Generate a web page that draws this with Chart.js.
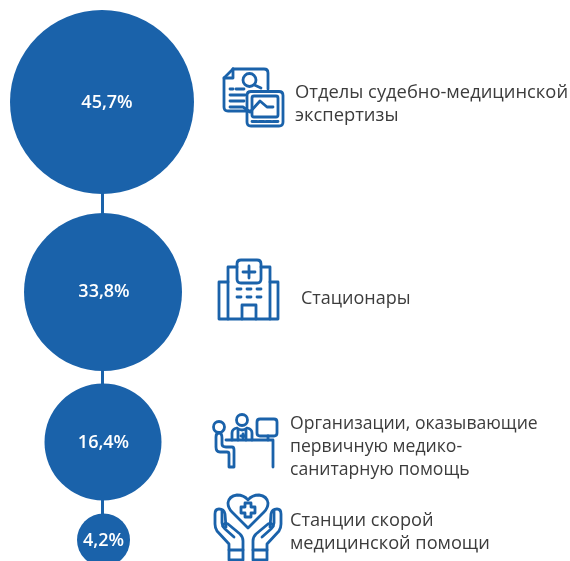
<!DOCTYPE html>
<html><head><meta charset="utf-8">
<style>html,body{margin:0;padding:0;background:#fff}canvas{display:block}</style>
<script src="https://cdn.jsdelivr.net/npm/chart.js@4"></script>
</head><body>
<canvas id="c" width="570" height="561"></canvas>
<script>
const categories = [
  ["Отделы судебно-медицинской","экспертизы"],
  ["Стационары"],
  ["Организации, оказывающие","первичную медико-","санитарную помощь"],
  ["Станции скорой","медицинской помощи"]
];
const shares = [45.7, 33.8, 16.4, 4.2];
const valueLabels = ["45,7%","33,8%","16,4%","4,2%"];

// layout only (no data)
const BLUE = "#1a62aa";
const centersX = [102, 103, 103, 103.5];
const centersY = [102, 292, 442, 540];
const radii = [92, 79, 58.5, 26.5];
const labelX = [107, 104, 103.5, 103.5];
const labelY = [103, 292, 443, 541];
const textX = [295, 301, 290, 290];
const textY = [[98,121],[304],[429,452,475],[526,549]];
const textSize = [18.35, 18, 17.6, 18.2];

const icons = [
 // document + monitor
 ["M233 69H264Q268 69 268 73V89","M233 69L224 78V107Q224 111 228 111H249","M233 69V78H224",
  "M256 80a6.5 6.5 0 1 0-13 0a6.5 6.5 0 1 0 13 0","M254.5 85L261 88",
  "M230 89H233M236 89H244","M230 95H245","M230 101H244","M230 107H243L250 112L260 101L267 107H273",
  "M251 91.500H279Q283 91.500 283 95.500V122Q283 126 279 126H251Q247 126 247 122V95.500Q247 91.500 251 91.500Z",
  "M254 96H276Q278 96 278 98V115Q278 117 276 117H254Q252 117 252 115V98Q252 96 254 96Z",
  "M252 121.500H257M259 121.500H264M266 121.500H271M273 121.500H278"],
 // hospital
 ["M241 260H257Q261 260 261 264V279Q261 283 257 283H241Q237 283 237 279V264Q237 260 241 260Z",
  "M249 266V278M243 272H255",
  "M237 267H228V319H270V267H261","M228 282H219V319H228","M270 282H278V319H270",
  "M242 319V305H256V319",
  "M237 289H241M247 289H251M257 289H261","M237 297H241M247 297H251M257 297H261"],
 // doctor + patient
 ["M247.500 420a5.500 5.500 0 1 0-11 0a5.500 5.500 0 1 0 11 0","M224.500 427a5.500 5.500 0 1 0-11 0a5.500 5.500 0 1 0 11 0",
  "M232 440V433Q232 429 237 428Q242 432 247 428Q252 429 252 433V440",
  "M238 430V440M246 430V440M241 436H245M243 434V438",
  "M226 440H273V467",
  "M260 419H274Q277 419 277 422V433Q277 436 274 436H260Q257 436 257 433V422Q257 419 260 419Z",
  "M268 436V440",
  "M222 438V444Q222 447 226 447H232Q234 447 234 450V467H229V454Q229 452 227 452H220Q216 452 216 447V437Q216 433 219 433Q222 433 222 438Z"],
 // hands + heart
 ["M248 528L232 512Q228 508 228 503Q229 496 237 495Q244 495 248 500Q252 495 259 495Q267 496 268 503Q268 508 264 512Z",
  "M245 503H251V507H255V513H251V517H245V513H241V507H245Z",
  "M229 550V544L217 531Q215 528 215 524V514Q215 509 219 509Q224 509 225 514L226 527",
  "M222 511V523Q222 526 225 529L234 537",
  "M243 550V541Q243 537 240 534L228 524Q224 522 223 526",
  "M229 550H243V560H229Z",
  "M267 550V544L279 531Q281 528 281 524V514Q281 509 277 509Q272 509 271 514L270 527",
  "M274 511V523Q274 526 271 529L262 537",
  "M253 550V541Q253 537 256 534L268 524Q272 522 273 526",
  "M253 550H267V560H253Z"]
];

const annotate = {
  id: "annotate",
  afterDatasetsDraw(chart){
    const ctx = chart.ctx, x = chart.scales.x, y = chart.scales.y;
    ctx.save();
    ctx.fillStyle = "#fff";
    ctx.textAlign = "center";
    ctx.font = "600 18px 'Open Sans'";
    ctx.textBaseline = "middle";
    valueLabels.forEach((t,i)=>ctx.fillText(t, x.getPixelForValue(labelX[i]), y.getPixelForValue(labelY[i])));
    ctx.textBaseline = "alphabetic";
    ctx.textAlign = "left";
    ctx.fillStyle = "#3c3c3c";
    categories.forEach((lines,i)=>{
      ctx.font = textSize[i] + "px 'Open Sans'";
      lines.forEach((l,j)=>ctx.fillText(l, textX[i], textY[i][j]));
    });
    ctx.strokeStyle = BLUE; ctx.lineWidth = 2.8; ctx.lineCap = "round"; ctx.lineJoin = "round";
    icons.forEach(ic=>ic.forEach(p=>ctx.stroke(new Path2D(p))));
    ctx.restore();
  }
};

new Chart(document.getElementById("c"), {
  type: "bubble",
  data: { datasets: [
    { type:"bubble", order:1, label:"share",
      data: shares.map((v,i)=>({x:centersX[i], y:centersY[i], r:radii[i], v})),
      backgroundColor:BLUE, borderWidth:0, hoverBorderWidth:0 },
    { type:"line", order:2, label:"link",
      data: shares.map((v,i)=>({x:102.5, y:centersY[i]})),
      borderColor:BLUE, borderWidth:3, pointRadius:0, fill:false, tension:0 }
  ]},
  options: {
    responsive:false, animation:false, events:[],
    layout:{padding:0, autoPadding:false},
    plugins:{legend:{display:false}, tooltip:{enabled:false}, title:{display:false}},
    scales:{
      x:{type:"linear", display:false, min:0, max:570},
      y:{type:"linear", display:false, min:0, max:561, reverse:true}
    }
  },
  plugins:[annotate]
});
</script>
</body></html>
